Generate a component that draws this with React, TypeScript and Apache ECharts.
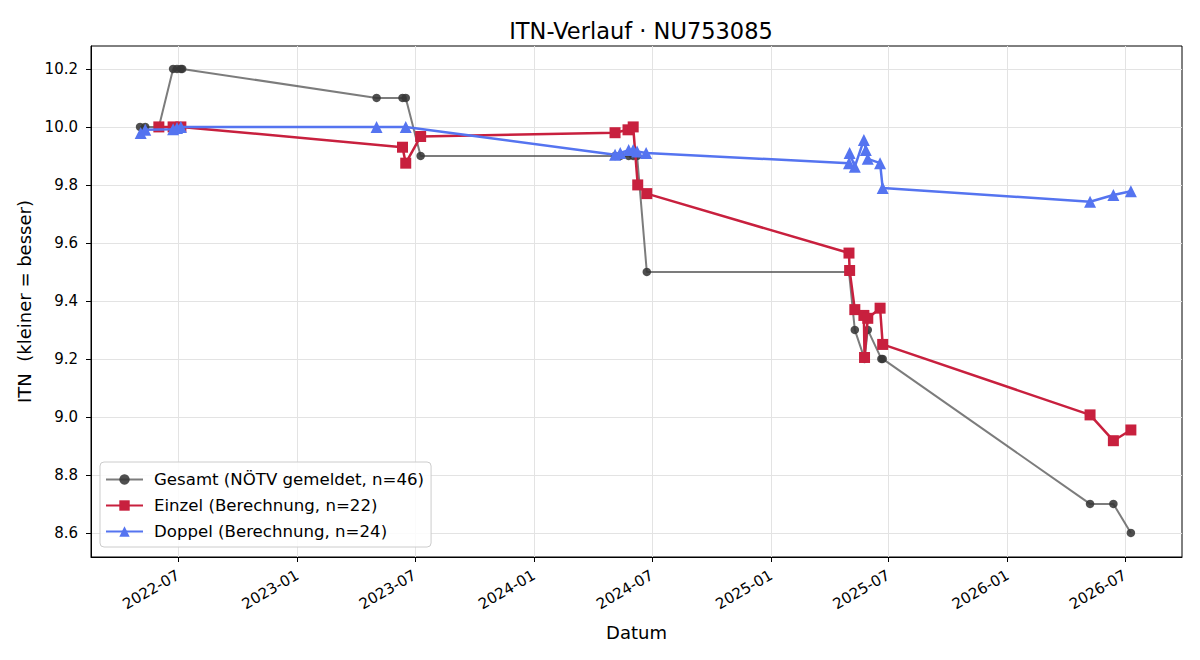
import React, { useEffect, useRef } from "react";
import * as echarts from "echarts";

const TITLE = "ITN-Verlauf · NU753085";
const X_NAME = "Datum";
const Y_NAME = "ITN  (kleiner = besser)";

const xTickDates = ["2022-07-01", "2023-01-01", "2023-07-01", "2024-01-01", "2024-07-01", "2025-01-01", "2025-07-01", "2026-01-01", "2026-07-01"];
const yTicks = [8.6, 8.8, 9.0, 9.2, 9.4, 9.6, 9.8, 10.0, 10.2];

const grayName = "Gesamt (NÖTV gemeldet, n=46)";
const grayDates = [
  "2022-05-03", "2022-05-11", "2022-06-01", "2022-06-23", "2022-06-29", "2022-07-05", "2022-07-07",
  "2023-05-03", "2023-06-12", "2023-06-17", "2023-07-10",
  "2024-05-05", "2024-05-13", "2024-05-26", "2024-06-02", "2024-06-08", "2024-06-23",
  "2025-05-01", "2025-05-10", "2025-05-25", "2025-05-30", "2025-06-20", "2025-06-22",
  "2026-05-08", "2026-06-13", "2026-07-10",
];
const grayValues = [
  10.0, 10.0, 10.0, 10.2, 10.2, 10.2, 10.2,
  10.1, 10.1, 10.1, 9.9,
  9.9, 9.9, 9.9, 9.9, 9.9, 9.5,
  9.5, 9.3, 9.2, 9.3, 9.2, 9.2,
  8.7, 8.7, 8.6,
];

const redName = "Einzel (Berechnung, n=22)";
const redDates = [
  "2022-06-01", "2022-06-23", "2022-07-05",
  "2023-06-12", "2023-06-17", "2023-07-10",
  "2024-05-05", "2024-05-25", "2024-06-02", "2024-06-09", "2024-06-23",
  "2025-05-01", "2025-05-02", "2025-05-10", "2025-05-24", "2025-05-25", "2025-05-30", "2025-06-18", "2025-06-22",
  "2026-05-08", "2026-06-13", "2026-07-10",
];
const redValues = [
  10.0, 10.0, 10.0,
  9.93, 9.875, 9.967,
  9.98, 9.99, 10.0, 9.8, 9.77,
  9.565, 9.505, 9.37, 9.35, 9.205, 9.34, 9.375, 9.25,
  9.007, 8.918, 8.955,
];

const blueName = "Doppel (Berechnung, n=24)";
const blueDates = [
  "2022-05-04", "2022-05-11", "2022-06-23", "2022-06-29", "2022-07-05",
  "2023-05-03", "2023-06-17",
  "2024-05-05", "2024-05-13", "2024-05-26", "2024-06-02", "2024-06-08", "2024-06-22",
  "2025-05-01", "2025-05-02", "2025-05-10", "2025-05-24", "2025-05-27", "2025-05-30", "2025-06-18", "2025-06-22",
  "2026-05-08", "2026-06-13", "2026-07-10",
];
const blueValues = [
  9.979, 9.99, 9.992, 9.996, 10.0,
  10.0, 10.0,
  9.904, 9.91, 9.92, 9.92, 9.915, 9.91,
  9.875, 9.91, 9.863, 9.955, 9.92, 9.89, 9.875, 9.789,
  9.742, 9.765, 9.778,
];

const ts = (s: string) => Date.parse(s + "T00:00:00Z");
const DAY = 86400000;
const pairs = (dates: string[], vals: number[]) => dates.map((d, i) => [ts(d), vals[i]]);

const FONT = "DejaVu Sans";

export default function App() {
  const ref = useRef<HTMLDivElement>(null);
  useEffect(() => {
    document.body.style.margin = "0";
    const chart = echarts.init(ref.current!, null, { renderer: "svg" });
    const xTicks = xTickDates.map(ts);
    const xMin = ts("2022-07-01") - 134.7 * DAY;
    const xMax = ts("2022-07-01") + 1548.9 * DAY;
    chart.setOption({
      animation: false,
      backgroundColor: "#ffffff",
      textStyle: { fontFamily: FONT },
      title: {
        text: TITLE,
        left: 636,
        textAlign: "center",
        top: 14,
        textStyle: { fontFamily: FONT, fontSize: 22.5, fontWeight: "normal", color: "#000" },
      },
      legend: {
        orient: "vertical",
        left: 100,
        top: 462,
        padding: [9, 7, 7, 5],
        itemGap: 9,
        itemWidth: 37,
        itemHeight: 13,
        borderColor: "#cccccc",
        borderWidth: 1,
        borderRadius: 4,
        backgroundColor: "rgba(255,255,255,0.85)",
        textStyle: { fontFamily: FONT, fontSize: 16.6, color: "#000", padding: [0, 0, 0, 6] },
        data: [grayName, redName, blueName],
      },
      grid: { left: 91, right: 18, top: 46, bottom: 103, show: true, borderColor: "#000", borderWidth: 1, outerBoundsMode: "none" },
      xAxis: {
        type: "value",
        min: xMin,
        max: xMax,
        name: X_NAME,
        nameLocation: "middle",
        nameGap: 66,
        nameTextStyle: { fontFamily: FONT, fontSize: 18, color: "#000" },
        axisLine: { show: true, lineStyle: { color: "#000", width: 1 } },
        axisTick: { show: true, length: 5, lineStyle: { color: "#000" }, customValues: xTicks },
        axisLabel: {
          customValues: xTicks,
          rotate: 30,
          margin: 17,
          fontFamily: FONT,
          fontSize: 15,
          color: "#000",
          formatter: (v: number) => new Date(v).toISOString().slice(0, 7),
        },
        splitLine: { show: true, lineStyle: { color: "#e3e3e3", width: 1 } },
      },
      yAxis: {
        type: "value",
        min: 8.517,
        max: 10.279,
        name: Y_NAME,
        nameLocation: "middle",
        nameGap: 56,
        nameTextStyle: { fontFamily: FONT, fontSize: 18, color: "#000" },
        axisLine: { show: true, lineStyle: { color: "#000", width: 1 } },
        axisTick: { show: true, length: 5, lineStyle: { color: "#000" }, customValues: yTicks },
        axisLabel: {
          customValues: yTicks,
          margin: 13,
          fontFamily: FONT,
          fontSize: 15,
          color: "#000",
          formatter: (v: number) => v.toFixed(1),
        },
        splitLine: { show: true, lineStyle: { color: "#e3e3e3", width: 1 } },
      },
      series: [
        {
          name: grayName,
          type: "line",
          data: pairs(grayDates, grayValues),
          symbol: "circle",
          symbolSize: 8.5,
          z: 2,
          lineStyle: { color: "rgba(80,80,80,0.75)", width: 2 },
          itemStyle: { color: "rgba(55,55,55,0.88)" },
          color: "#555555",
        },
        {
          name: redName,
          type: "line",
          data: pairs(redDates, redValues),
          symbol: "rect",
          symbolSize: 11,
          z: 3,
          lineStyle: { color: "#c8203e", width: 2.5 },
          itemStyle: { color: "#c8203e" },
          color: "#c8203e",
        },
        {
          name: blueName,
          type: "line",
          data: pairs(blueDates, blueValues),
          symbol: "triangle",
          symbolSize: 12,
          z: 4,
          lineStyle: { color: "#5574f0", width: 2.5 },
          itemStyle: { color: "#5574f0" },
          color: "#5574f0",
        },
      ],
    });
    return () => chart.dispose();
  }, []);
  return <div ref={ref} style={{ width: 1200, height: 660 }} />;
}
